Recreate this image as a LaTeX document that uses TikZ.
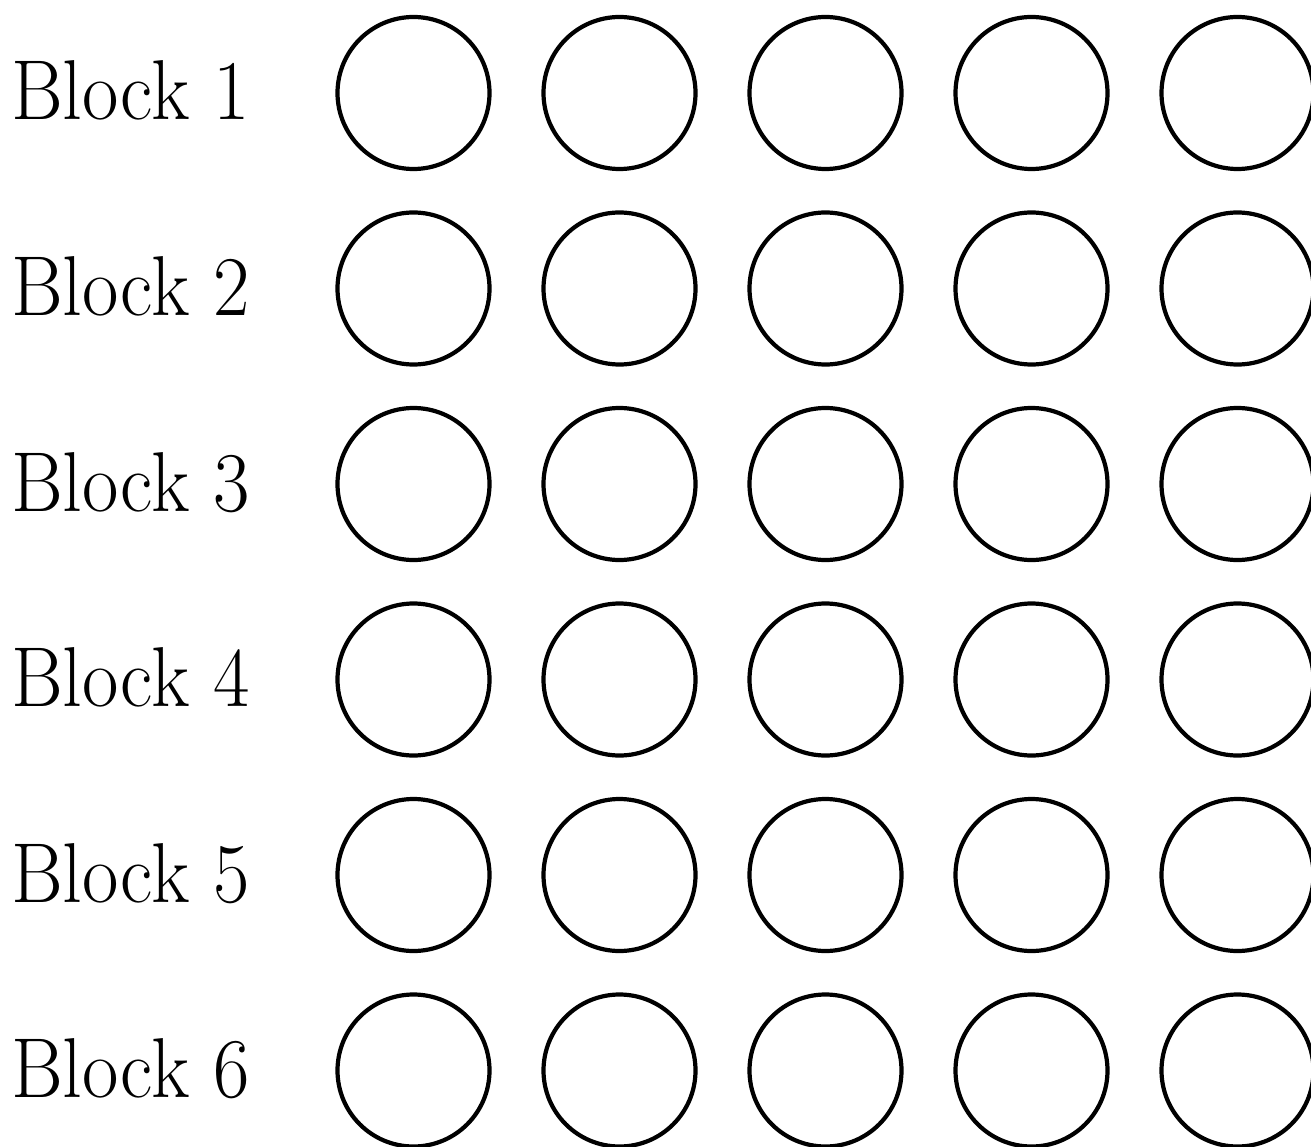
\documentclass[tikz,border=0pt]{standalone}
\usepackage{fontspec}
\setmainfont{Latin Modern Roman}[FakeStretch=0.93]
\begin{document}
\begin{tikzpicture}[x=1pt,y=-1pt,
  ring/.style={draw=black,line width=4.2pt,circle,minimum size=152pt,inner sep=0pt},
  rowlabel/.style={anchor=base west,inner sep=0pt,font=\fontsize{85}{90}\selectfont}]
\useasboundingbox (0,0) rectangle (1311,1147);
\foreach \r in {1,...,6}{
  \pgfmathsetmacro{\cy}{93+195.5*(\r-1)}
  \node[rowlabel] (lab\r) at (11,\cy+27) {Block \r};
  \foreach \c in {1,...,5}{
    \pgfmathsetmacro{\cx}{413.5+206*(\c-1)}
    \node[ring] (c\r\c) at (\cx,\cy) {};
  }
}
\end{tikzpicture}
\end{document}
